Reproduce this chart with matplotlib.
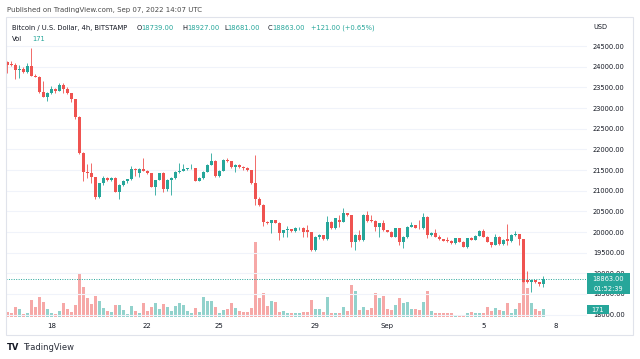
import matplotlib
matplotlib.use("Agg")
import matplotlib.pyplot as plt
from matplotlib.patches import Rectangle
from matplotlib.text import Annotation
import pandas as pd

# BTC/USD 4h candles (Bitstamp)
start = pd.Timestamp("2022-08-16 04:00")

opens = [24110, 24060, 24030, 23920, 23955, 23865, 24015, 23785, 23760, 23395,
         23275, 23355, 23460, 23420, 23565, 23455, 23355, 23210, 22775, 21920,
         21460, 21420, 21325, 20840, 21180, 21300, 21260, 21310, 20975, 21135,
         21235, 21275, 21530, 21430, 21525, 21485, 21420, 21095, 21260, 21420,
         21035, 21260, 21300, 21455, 21485, 21515, 21540, 21555, 21245, 21300,
         21460, 21620, 21725, 21355, 21485, 21745, 21715, 21565, 21620, 21575,
         21550, 21500, 21180, 20790, 20655, 20250, 20210, 20290, 20230, 19985,
         20045, 20065, 20025, 20090, 20100, 20040, 20005, 19565, 19885, 19925,
         19825, 20250, 20090, 20300, 20250, 20450, 20410, 19765, 19925, 19805,
         20410, 20300, 20265, 20130, 20210, 20050, 20010, 19885, 20090, 19765,
         19885, 20130, 20170, 20105, 20090, 20370, 19925, 19970, 19885, 19825,
         19800, 19785, 19725, 19845, 19765, 19645, 19845, 19810, 19910, 20025,
         19885, 19765, 19690, 19885, 19705, 19820, 19785, 19925, 19945, 19830,
         18835, 18790, 18830, 18785, 18739]
highs = [24140, 24150, 24090, 24050, 23990, 24090, 24450, 23825, 23770, 23645,
         23395, 23530, 23485, 23600, 23615, 23515, 23370, 23220, 22800, 21930,
         21645, 21660, 21340, 21190, 21355, 21330, 21340, 21320, 21150, 21250,
         21290, 21600, 21545, 21540, 21785, 21500, 21430, 21270, 21440, 21450,
         21280, 21320, 21470, 21660, 21645, 21560, 21640, 21560, 21320, 21470,
         21640, 21905, 21740, 21500, 21760, 21800, 21730, 21640, 21635, 21590,
         21570, 21510, 21865, 20850, 20670, 20270, 20300, 20300, 20240, 20060,
         20145, 20080, 20110, 20120, 20110, 20170, 20010, 19900, 19945, 19935,
         20390, 20260, 20345, 20410, 20575, 20470, 20420, 19940, 20050, 20430,
         20510, 20410, 20290, 20220, 20290, 20060, 20030, 20100, 20100, 19900,
         20145, 20250, 20180, 20290, 20470, 20380, 19990, 20075, 19920, 19840,
         19885, 19795, 19860, 19860, 19780, 19860, 19880, 19925, 20040, 20075,
         19900, 19770, 19945, 19895, 19820, 20185, 19940, 20025, 19955, 19840,
         19055, 18850, 18840, 18800, 18927]
lows = [23850, 24010, 23700, 23720, 23840, 23850, 23770, 23740, 23355, 23260,
        23175, 23340, 23370, 23410, 23360, 23340, 23145, 22725, 21890, 21240,
        21305, 21195, 20810, 20820, 21130, 21240, 21240, 20960, 20790, 21120,
        21180, 21260, 21355, 21340, 21470, 21400, 21080, 20895, 21250, 20975,
        21000, 20895, 21290, 21440, 21470, 21495, 21530, 21230, 21230, 21290,
        21450, 21610, 21340, 21340, 21470, 21700, 21550, 21460, 21560, 21500,
        21480, 21160, 20650, 20620, 20145, 20190, 19970, 20210, 19805, 19885,
        19885, 20000, 20010, 20040, 19885, 19885, 19550, 19550, 19840, 19810,
        19810, 20080, 20080, 20130, 20240, 20390, 19645, 19565, 19790, 19790,
        20250, 20250, 20025, 19885, 20030, 19990, 19870, 19870, 19685, 19605,
        19860, 20120, 20090, 20080, 20080, 19845, 19900, 19870, 19810, 19775,
        19770, 19710, 19700, 19750, 19630, 19615, 19795, 19795, 19900, 19870,
        19750, 19645, 19680, 19690, 19690, 19685, 19765, 19900, 19685, 18780,
        18770, 18555, 18770, 18700, 18681]
closes = [24040, 24030, 23920, 23955, 23865, 24015, 23785, 23760, 23395, 23275,
          23355, 23460, 23420, 23565, 23455, 23355, 23210, 22775, 21920, 21460,
          21420, 21325, 20840, 21180, 21300, 21260, 21310, 20975, 21135, 21235,
          21275, 21530, 21500, 21525, 21485, 21420, 21095, 21260, 21420, 21035,
          21260, 21300, 21455, 21485, 21515, 21540, 21555, 21245, 21300, 21460,
          21620, 21725, 21355, 21485, 21740, 21715, 21565, 21620, 21575, 21550,
          21500, 21180, 20790, 20655, 20250, 20210, 20290, 20230, 19985, 20045,
          20065, 20025, 20090, 20100, 20010, 20005, 19565, 19885, 19925, 19825,
          20250, 20090, 20330, 20250, 20450, 20410, 19765, 19925, 19805, 20410,
          20265, 20265, 20130, 20210, 20050, 20010, 19885, 20090, 19765, 19885,
          20130, 20170, 20105, 20090, 20370, 19925, 19970, 19885, 19825, 19790,
          19785, 19725, 19845, 19765, 19645, 19845, 19810, 19910, 20025, 19885,
          19765, 19690, 19885, 19705, 19805, 19785, 19925, 19945, 19830, 18800,
          18790, 18830, 18785, 18742, 18863]
volumes = [110, 94, 218, 180, 54, 87, 391, 218, 461, 344,
           180, 77, 63, 133, 321, 171, 110, 274, 1013, 695,
           445, 297, 491, 374, 194, 133, 110, 274, 274, 157,
           70, 257, 124, 87, 321, 133, 218, 311, 171, 297,
           218, 124, 250, 311, 281, 124, 94, 204, 110, 452,
           358, 358, 218, 94, 157, 171, 328, 194, 140, 110,
           110, 194, 1739, 428, 545, 250, 358, 344, 110, 124,
           94, 87, 87, 77, 110, 110, 391, 171, 171, 117,
           468, 94, 77, 77, 218, 133, 725, 585, 157, 218,
           157, 194, 545, 445, 484, 171, 157, 264, 445, 311,
           351, 171, 171, 157, 351, 592, 124, 77, 77, 94,
           94, 77, 40, 40, 47, 94, 110, 77, 77, 77,
           218, 124, 194, 157, 140, 311, 94, 171, 311, 896,
           662, 311, 180, 140, 171]

tick_dates = ["2022-08-18", "2022-08-22", "2022-08-25", "2022-08-29",
              "2022-09-01", "2022-09-05", "2022-09-08"]
tick_labels = ["18", "22", "25", "29", "Sep", "5", "8"]
price_ticks = list(range(18000, 25000, 500))

UP = "#26a69a"
DOWN = "#ef5350"
TEXT = "#131722"
GRID = "#f0f3fa"

W, H = 640, 359
fig = plt.figure(figsize=(W / 100, H / 100), dpi=100)
fig.patch.set_facecolor("white")


def fx(px):
    return px / W


def fy(py):
    return 1 - py / H


left, right, top, bottom = 6, 587, 17, 318
axv = fig.add_axes([fx(left), fy(bottom), fx(right - left), (bottom - top) / H])
axp = axv.twinx()

n = len(closes)
xs = list(range(n))
colors = [UP if c >= o else DOWN for o, c in zip(opens, closes)]

# volume overlay (behind the candles)
axv.bar(xs, volumes, width=0.75, color=colors, alpha=0.5, linewidth=0)
axv.set_ylim(-30, 6950)
axv.set_xlim(-0.33, 144.9)
axv.set_yticks([])

# candles
axp.vlines(xs, lows, highs, colors=colors, linewidth=0.6)
min_body = 20
heights = [max(abs(c - o), min_body) for o, c in zip(opens, closes)]
bases = [min(o, c) - (h - abs(c - o)) / 2 for o, c, h in zip(opens, closes, heights)]
axp.bar(xs, heights, bottom=bases, width=0.72, color=colors, linewidth=0)
axp.set_ylim(17919, 25203)
axp.axhline(closes[-1], color=UP, linewidth=0.7, linestyle=(0, (1, 1.5)))

# axes / ticks
tick_pos = [(pd.Timestamp(d) - start) / pd.Timedelta(hours=4) for d in tick_dates]
axv.set_xticks(tick_pos)
axv.set_xticklabels(tick_labels)
axv.tick_params(axis="x", length=0, pad=3.6, labelsize=5, labelcolor=TEXT)
axp.set_yticks(price_ticks)
axp.set_yticklabels([f"{p:.2f}" for p in price_ticks])
axp.tick_params(axis="y", length=0, pad=4.3, labelsize=4.8, labelcolor=TEXT)
axp.set_axisbelow(True)
axp.grid(True, color=GRID, linewidth=0.8)
for a in (axv, axp):
    for s in a.spines.values():
        s.set_visible(False)

# outer frame
fig.add_artist(Rectangle((fx(6), fy(335)), fx(633 - 6), (335 - 17) / H,
                         transform=fig.transFigure, fill=False,
                         edgecolor="#e0e3eb", linewidth=0.8))

# last price / last volume labels on the price scale
fig.canvas.draw()
yp = H - axp.transData.transform((0, closes[-1]))[1]
fig.add_artist(Rectangle((fx(587), fy(yp + 15)), fx(43), 21 / H,
                         transform=fig.transFigure, facecolor=UP, edgecolor="none"))
fig.text(fx(608.5), fy(yp), f"{closes[-1]:.2f}", ha="center", va="center",
         color="white", fontsize=4.8)
fig.text(fx(608.5), fy(yp + 10), "01:52:39", ha="center", va="center",
         color="white", fontsize=4.8)

yv = H - axv.transData.transform((0, volumes[-1]))[1]
fig.add_artist(Rectangle((fx(587), fy(yv + 5)), fx(22), 9.5 / H,
                         transform=fig.transFigure, facecolor=UP, edgecolor="none"))
fig.text(fx(598), fy(yv + 0.3), f"{volumes[-1]}", ha="center", va="center",
         color="white", fontsize=4.8)

# header texts
fig.text(fx(7), fy(10), "Published on TradingView.com, Sep 07, 2022 14:07 UTC",
         fontsize=5.0, color="#4a4a4a", va="center")
chg = closes[-1] - closes[-2]
pct = chg / closes[-2] * 100
fig.text(fx(12.3), fy(28), "Bitcoin / U.S. Dollar, 4h, BITSTAMP",
         fontsize=4.9, color=TEXT, va="center")
ohlc = [("O", opens[-1], 136.5), ("H", highs[-1], 182.5),
        ("L", lows[-1], 224), ("C", closes[-1], 267.5)]
for letter, val, x in ohlc:
    t = fig.text(fx(x), fy(28), letter, fontsize=4.9, color=TEXT, va="center")
    fig.add_artist(Annotation(f"{val:.2f}", xy=(1, 0.5), xycoords=t,
                              va="center", ha="left", fontsize=4.9, color=UP))
fig.text(fx(311), fy(28), f"{chg:+.2f} ({pct:+.2f}%)", fontsize=4.9, color=UP, va="center")
fig.text(fx(12), fy(39.3), "Vol", fontsize=4.9, color=TEXT, va="center")
fig.text(fx(32), fy(39.3), f"{volumes[-1]}", fontsize=4.9, color=UP, va="center")
fig.text(fx(593), fy(26.7), "USD", fontsize=4.8, color=TEXT, va="center")

# footer
fig.text(fx(7), fy(347), "TV", fontsize=6, fontweight="bold", color=TEXT, va="center")
fig.text(fx(22.7), fy(347), "TradingView", fontsize=6, color="#2a2e39", va="center")

fig.savefig("out.png", dpi=100, facecolor="white")
